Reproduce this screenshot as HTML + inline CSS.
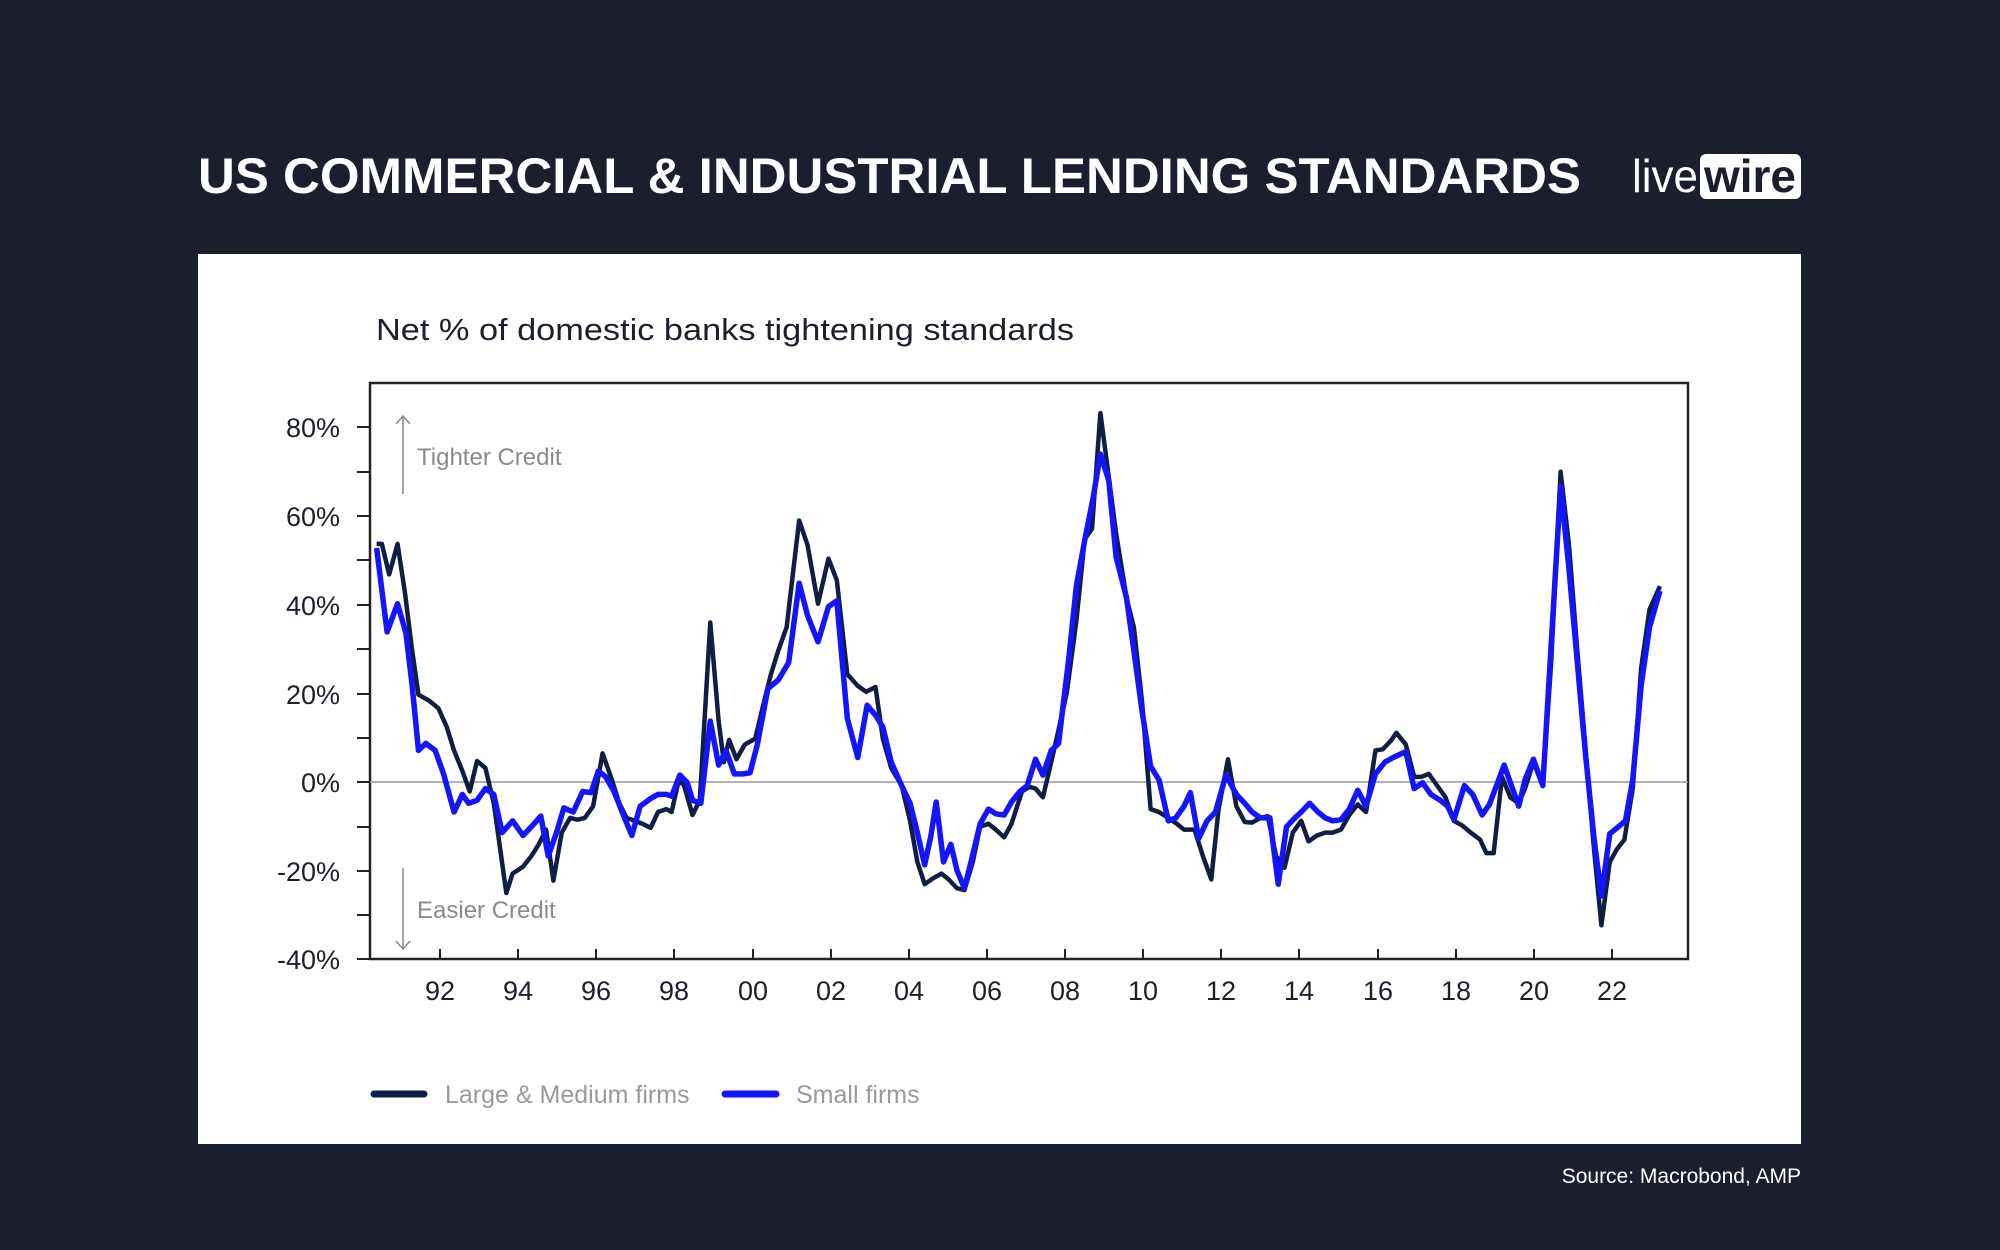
<!DOCTYPE html>
<html><head><meta charset="utf-8"><style>
html,body{margin:0;padding:0;background:#1b1f2d;width:2000px;height:1250px;overflow:hidden}
svg{display:block;font-family:"Liberation Sans",sans-serif}
</style></head><body>
<svg width="2000" height="1250" viewBox="0 0 2000 1250" xmlns="http://www.w3.org/2000/svg">
<rect width="2000" height="1250" fill="#1b1f2d"/>
<text x="198" y="193" fill="#fff" font-size="50" font-weight="bold" textLength="1383" lengthAdjust="spacingAndGlyphs">US COMMERCIAL &amp; INDUSTRIAL LENDING STANDARDS</text>
<text x="1632" y="192" fill="#fff" font-size="46" textLength="66" lengthAdjust="spacingAndGlyphs">live</text>
<rect x="1700" y="154" width="101" height="45" rx="6" fill="#fff"/>
<text x="1704" y="192" fill="#1b1f2d" font-size="46" font-weight="bold" textLength="92" lengthAdjust="spacingAndGlyphs">wire</text>
<rect x="198" y="254" width="1603" height="890" fill="#fff"/>
<text x="376" y="340" fill="#1b1f2d" font-size="31" textLength="698" lengthAdjust="spacingAndGlyphs">Net % of domestic banks tightening standards</text>
<rect x="370" y="383" width="1318" height="576" fill="none" stroke="#222" stroke-width="2.5"/>
<line x1="370" y1="782" x2="1688" y2="782" stroke="#999" stroke-width="1.5"/>
<g stroke="#222" stroke-width="2">
<line x1="357" y1="427" x2="370" y2="427"/><line x1="357" y1="472" x2="370" y2="472"/><line x1="357" y1="516" x2="370" y2="516"/><line x1="357" y1="560" x2="370" y2="560"/><line x1="357" y1="605" x2="370" y2="605"/><line x1="357" y1="649" x2="370" y2="649"/><line x1="357" y1="694" x2="370" y2="694"/><line x1="357" y1="738" x2="370" y2="738"/><line x1="357" y1="782" x2="370" y2="782"/><line x1="357" y1="827" x2="370" y2="827"/><line x1="357" y1="871" x2="370" y2="871"/><line x1="357" y1="915" x2="370" y2="915"/><line x1="357" y1="959" x2="370" y2="959"/>
<line x1="440" y1="959" x2="440" y2="949"/><line x1="518" y1="959" x2="518" y2="949"/><line x1="596" y1="959" x2="596" y2="949"/><line x1="674" y1="959" x2="674" y2="949"/><line x1="753" y1="959" x2="753" y2="949"/><line x1="831" y1="959" x2="831" y2="949"/><line x1="909" y1="959" x2="909" y2="949"/><line x1="987" y1="959" x2="987" y2="949"/><line x1="1065" y1="959" x2="1065" y2="949"/><line x1="1143" y1="959" x2="1143" y2="949"/><line x1="1221" y1="959" x2="1221" y2="949"/><line x1="1299" y1="959" x2="1299" y2="949"/><line x1="1378" y1="959" x2="1378" y2="949"/><line x1="1456" y1="959" x2="1456" y2="949"/><line x1="1534" y1="959" x2="1534" y2="949"/><line x1="1612" y1="959" x2="1612" y2="949"/>
</g>
<g fill="#1b1f2d" font-size="27" text-anchor="end">
<text x="340" y="437">80%</text><text x="340" y="526">60%</text><text x="340" y="615">40%</text><text x="340" y="704">20%</text><text x="340" y="792">0%</text><text x="340" y="881">-20%</text><text x="340" y="969">-40%</text>
</g>
<g fill="#1b1f2d" font-size="27" text-anchor="middle">
<text x="440" y="1000">92</text><text x="518" y="1000">94</text><text x="596" y="1000">96</text><text x="674" y="1000">98</text><text x="753" y="1000">00</text><text x="831" y="1000">02</text><text x="909" y="1000">04</text><text x="987" y="1000">06</text><text x="1065" y="1000">08</text><text x="1143" y="1000">10</text><text x="1221" y="1000">12</text><text x="1299" y="1000">14</text><text x="1378" y="1000">16</text><text x="1456" y="1000">18</text><text x="1534" y="1000">20</text><text x="1612" y="1000">22</text>
</g>
<g stroke="#888" stroke-width="1.5" fill="none">
<line x1="403" y1="416" x2="403" y2="494"/><polyline points="396,424 403,416 410,424"/>
<line x1="403" y1="868" x2="403" y2="949"/><polyline points="396,941 403,949 410,941"/>
</g>
<text x="417" y="465" fill="#8a8a8a" font-size="24">Tighter Credit</text>
<text x="417" y="918" fill="#8a8a8a" font-size="24">Easier Credit</text>
<g transform="matrix(1.0459 0 0 0.5867 180 240)" fill="none" stroke-linejoin="round">
<polyline stroke="#0f1e42" stroke-width="4.5" vector-effect="non-scaling-stroke" points="188,518 193,518 200,570 208,518 215,600 222,700 228,775 238,785 247,798 255,830 262,870 270,905 277,940 284,888 292,900 300,960 312,1113 318,1080 328,1068 336,1050 343,1030 350,1005 357,1092 365,1010 373,985 380,988 387,985 395,965 404,875 412,915 420,960 427,985 435,990 442,995 450,1002 457,975 465,970 470,975 477,920 482,930 490,980 497,955 507,652 515,820 520,890 525,852 532,885 540,860 550,850 558,790 565,740 572,700 580,660 592,478 600,520 610,620 620,543 628,580 638,740 648,760 656,770 665,762 672,850 680,900 690,930 698,990 705,1060 712,1098 720,1088 728,1080 735,1090 743,1105 750,1108 758,1060 765,1000 773,995 780,1005 788,1018 795,995 805,940 812,932 818,935 825,950 833,890 840,835 848,770 857,650 865,510 872,492 880,295 887,390 895,500 905,610 912,660 920,790 928,970 936,975 945,985 953,995 960,1005 970,1005 978,1050 986,1090 993,970 1002,885 1010,965 1018,992 1025,993 1033,985 1040,982 1048,1050 1056,1070 1064,1010 1072,990 1079,1025 1087,1015 1095,1010 1102,1010 1110,1005 1118,980 1126,962 1134,975 1143,870 1150,868 1158,853 1163,840 1172,860 1180,915 1187,915 1194,910 1202,930 1210,950 1218,990 1226,998 1234,1010 1243,1022 1249,1045 1256,1045 1264,915 1272,950 1280,960 1286,935 1294,890 1303,930 1311,720 1320,395 1328,520 1336,700 1344,870 1351,1020 1359,1168 1367,1060 1374,1038 1381,1022 1389,935 1397,730 1405,630 1415,590"/>
<polyline stroke="#1414ff" stroke-width="5.5" vector-effect="non-scaling-stroke" points="188,525 198,668 208,620 216,670 222,760 228,870 235,858 244,870 252,910 262,975 270,945 276,960 284,955 292,935 300,945 308,1010 318,990 328,1015 336,1000 345,982 352,1050 360,1010 367,968 376,975 385,940 393,942 400,905 407,915 415,940 425,985 432,1015 440,965 450,952 457,945 465,945 470,948 478,912 485,925 490,955 498,960 507,820 515,895 522,870 530,910 538,910 545,908 552,860 562,765 572,750 582,720 592,585 600,640 610,685 620,625 628,615 638,815 648,882 657,793 665,810 672,830 680,890 690,930 698,960 705,1010 712,1065 718,1015 723,958 730,1060 737,1030 743,1075 750,1105 757,1055 765,995 773,970 780,978 788,980 795,958 803,940 810,930 818,885 825,912 833,870 840,858 850,710 857,590 865,512 873,440 880,365 888,410 895,540 905,610 912,700 920,805 928,897 936,920 945,990 952,985 960,965 966,942 974,1020 982,990 990,975 1000,912 1010,945 1018,960 1025,975 1033,985 1042,985 1050,1098 1058,1000 1066,985 1072,975 1080,960 1088,975 1095,985 1102,990 1110,988 1118,970 1126,938 1134,965 1143,910 1152,890 1160,882 1172,872 1180,935 1188,925 1196,945 1205,955 1212,965 1218,988 1228,930 1236,945 1245,980 1252,962 1266,895 1272,925 1280,965 1286,920 1294,885 1303,930 1311,690 1320,420 1328,560 1336,720 1344,880 1352,1020 1359,1118 1367,1012 1374,1002 1382,990 1389,920 1397,760 1405,660 1415,598"/>
</g>
<line x1="374" y1="1094" x2="424" y2="1094" stroke="#0f1e42" stroke-width="7" stroke-linecap="round"/>
<text x="445" y="1103" fill="#999" font-size="25">Large &amp; Medium firms</text>
<line x1="725" y1="1094" x2="776" y2="1094" stroke="#1414ff" stroke-width="7" stroke-linecap="round"/>
<text x="796" y="1103" fill="#999" font-size="25">Small firms</text>
<text x="1801" y="1183" fill="#fff" font-size="21" text-anchor="end">Source: Macrobond, AMP</text>
</svg>
</body></html>
